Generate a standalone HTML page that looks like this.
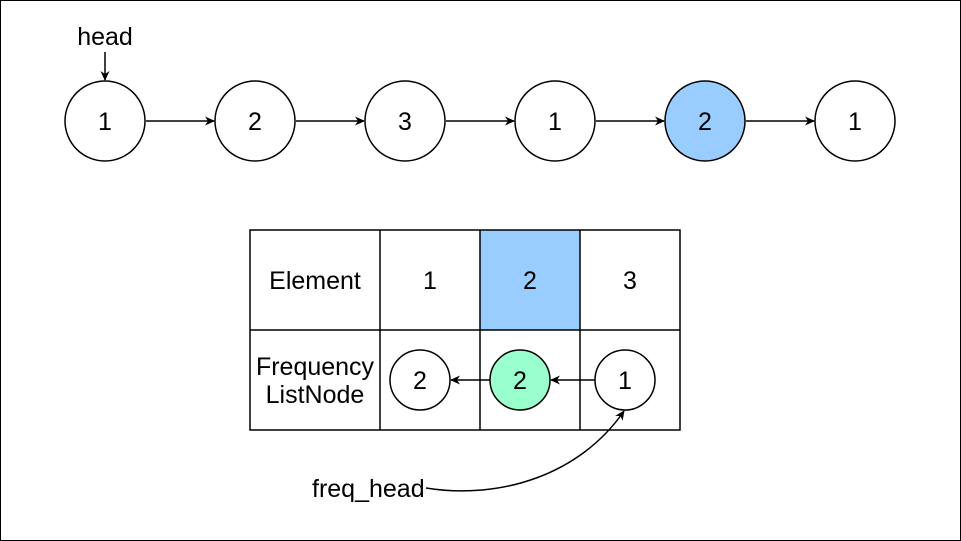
<!DOCTYPE html>
<html><head><meta charset="utf-8"><style>
html,body{margin:0;padding:0;background:#fff;}
svg{display:block;font-family:"Liberation Sans",Arial,sans-serif;}
</style></head><body>
<svg width="961" height="541" viewBox="0 0 961 541">
<defs><marker id="ah" markerWidth="10" markerHeight="10" refX="9" refY="5" orient="auto" markerUnits="userSpaceOnUse"><path d="M0,0.5 L10,5 L0,9.5 L3,5 Z" fill="#000"/></marker></defs>
<rect x="0.5" y="0.5" width="960" height="540" fill="#fff" stroke="#000"/>
<text x="105" y="45" font-size="25" text-anchor="middle">head</text>
<line x1="105" y1="52" x2="105" y2="80" stroke="#000" stroke-width="1.5" marker-end="url(#ah)"/>
<g id="list"></g>
<g>
<rect x="480" y="230" width="100" height="100" fill="#99ccff"/>
<rect x="250" y="230" width="430" height="200" fill="none" stroke="#000" stroke-width="1.5"/>
<line x1="250" y1="330" x2="680" y2="330" stroke="#000" stroke-width="1.5"/>
<line x1="380" y1="230" x2="380" y2="430" stroke="#000" stroke-width="1.5"/>
<line x1="480" y1="230" x2="480" y2="430" stroke="#000" stroke-width="1.5"/>
<line x1="580" y1="230" x2="580" y2="430" stroke="#000" stroke-width="1.5"/>
<text x="315" y="289" font-size="25" text-anchor="middle">Element</text>
<text x="430" y="289" font-size="25" text-anchor="middle">1</text>
<text x="530" y="289" font-size="25" text-anchor="middle">2</text>
<text x="630" y="289" font-size="25" text-anchor="middle">3</text>
<text x="315" y="375" font-size="25" text-anchor="middle">Frequency</text>
<text x="315" y="403" font-size="25" text-anchor="middle">ListNode</text>
<line x1="595" y1="380" x2="551" y2="380" stroke="#000" stroke-width="1.5" marker-end="url(#ah)"/>
<line x1="490" y1="380" x2="451" y2="380" stroke="#000" stroke-width="1.5" marker-end="url(#ah)"/>
<circle cx="420" cy="380" r="30" fill="#fff" stroke="#000" stroke-width="1.5"/>
<circle cx="520" cy="380" r="30" fill="#99ffcc" stroke="#000" stroke-width="1.5"/>
<circle cx="625" cy="380" r="30" fill="#fff" stroke="#000" stroke-width="1.5"/>
<text x="420" y="389" font-size="25" text-anchor="middle">2</text>
<text x="520" y="389" font-size="25" text-anchor="middle">2</text>
<text x="625" y="389" font-size="25" text-anchor="middle">1</text>
</g>
<text x="312" y="497" font-size="25">freq_head</text>
<path d="M426,488 C500,500 580,475 624,411" fill="none" stroke="#000" stroke-width="1.5" marker-end="url(#ah)"/>
</svg>
<script>
const values=[1,2,3,1,2,1];
const highlighted=[false,false,false,false,true,false];
const g=document.getElementById('list');
const NS='http://www.w3.org/2000/svg';
const xOf=i=>105+i*150;
values.forEach((v,i)=>{
  if(i<values.length-1){
    const l=document.createElementNS(NS,'line');
    l.setAttribute('x1',xOf(i)+41);l.setAttribute('y1',121);
    l.setAttribute('x2',xOf(i+1)-41);l.setAttribute('y2',121);
    l.setAttribute('stroke','#000');l.setAttribute('stroke-width','1.5');
    l.setAttribute('marker-end','url(#ah)');
    
    
    g.appendChild(l);
  }
  const c=document.createElementNS(NS,'circle');
  c.setAttribute('cx',xOf(i));c.setAttribute('cy',121);c.setAttribute('r',40);
  c.setAttribute('fill',highlighted[i]?'#99ccff':'#fff');
  c.setAttribute('stroke','#000');c.setAttribute('stroke-width','1.5');
  
  
  g.appendChild(c);
  const t=document.createElementNS(NS,'text');
  t.setAttribute('x',xOf(i));t.setAttribute('y',130);
  t.setAttribute('font-size','25');t.setAttribute('text-anchor','middle');
  t.textContent=v;
  
  
  g.appendChild(t);
});
</script>
</body></html>
